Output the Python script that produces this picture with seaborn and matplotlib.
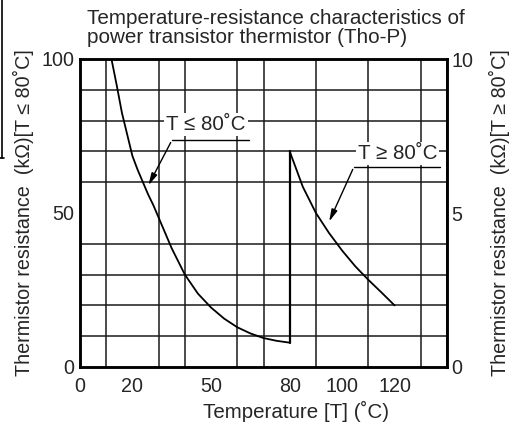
import numpy as np
import pandas as pd
import seaborn as sns
import matplotlib.pyplot as plt
from matplotlib.lines import Line2D

# readings from the reference curve (T <= 80 C, left axis in kOhm)
temp_low = [12, 14, 16, 18, 20, 22, 24, 26, 28, 30, 32, 35, 40, 45, 50, 55, 60, 65, 70, 75, 80]
res_low = [100, 91.5, 82.5, 75.5, 68.5, 64, 60, 56, 52.5, 48.5, 44.5, 38.5, 30, 23.8, 19.3, 15.7, 12.9, 10.9, 9.4, 8.5, 7.9]

# readings for T >= 80 C (right axis in kOhm)
temp_high = [80, 85, 90, 95, 100, 105, 110, 115, 120]
res_high = [7.0, 5.85, 5.0, 4.35, 3.78, 3.27, 2.83, 2.42, 2.0]

x_ticks = [0, 20, 50, 80, 100, 120]
left_ticks = [0, 50, 100]
right_ticks = [0, 5, 10]

title = "Temperature-resistance characteristics of\npower transistor thermistor (Tho-P)"
xlab = "Temperature [T] (˚C)"
ylab_left = "Thermistor resistance  (kΩ)[T ≤ 80˚C]"
ylab_right = "Thermistor resistance  (kΩ)[T ≥ 80˚C]"

sns.set_theme(style="white")
plt.rcParams['font.family'] = ['Liberation Sans', 'DejaVu Sans']
fs = 14.2

df_low = pd.DataFrame({'temp': temp_low, 'res': res_low})
df_high = pd.DataFrame({'temp': temp_high, 'res': res_high})

fig = plt.figure(figsize=(5.18, 4.28), dpi=100)
ax = fig.add_axes([80 / 518, 61 / 428, 367 / 518, 308 / 428])
ax2 = ax.twinx()

ax.set_xlim(0, 140)
ax.set_ylim(0, 100)
ax2.set_ylim(0, 10)

# grid every 10 degC / 10 kOhm
ax.set_xticks(np.arange(0, 141, 10), minor=True)
ax.set_yticks(np.arange(0, 101, 10), minor=True)
ax.grid(which='minor', color='#1a1a1a', linewidth=1.1)
ax.set_axisbelow(True)

sns.lineplot(data=df_low, x='temp', y='res', ax=ax, color='black', linewidth=1.3, sort=False)
sns.lineplot(data=df_high, x='temp', y='res', ax=ax2, color='black', linewidth=1.3, sort=False)
# jump at 80 C
ax.plot([temp_low[-1], temp_high[0]], [res_low[-1], res_high[0] * 10], color='black', linewidth=1.6)

ax.set_xticks(x_ticks)
ax.set_yticks(left_ticks)
ax2.set_yticks(right_ticks)
ax.tick_params(which='both', length=0, labelsize=fs)
ax.tick_params(axis='x', pad=7)
ax.tick_params(axis='y', pad=4)
ax2.tick_params(which='both', length=0, labelsize=fs, pad=3)

for a in (ax, ax2):
    for s in a.spines.values():
        s.set_color('black')
        s.set_linewidth(1.8)

ax.set_xlabel(xlab, fontsize=14.8)
ax.xaxis.set_label_coords(0.589, -0.11)
ax.set_ylabel(ylab_left, fontsize=fs)
ax.yaxis.set_label_coords(-0.126, 0.5)
ax2.set_ylabel(ylab_right, fontsize=fs)
ax2.yaxis.set_label_coords(1.113, 0.5)

# callouts
box = dict(facecolor='white', edgecolor='none', pad=1.5)
ax.text(48.1, 78.6, "T ≤ 80˚C", fontsize=14.8, ha='center', va='center', bbox=box, zorder=5)
ax.plot([35.1, 64.5], [73.7, 73.7], color='black', linewidth=1.0, zorder=5)
ax.annotate("", xy=(25.6, 58.2), xytext=(35.1, 73.7),
            arrowprops=dict(arrowstyle='-|>,head_length=0.6,head_width=0.15', color='black', lw=1.0), zorder=5)

ax2.text(121.1, 6.93, "T ≥ 80˚C", fontsize=14.8, ha='center', va='center', bbox=box, zorder=5)
ax2.plot([104.5, 137.4], [6.5, 6.5], color='black', linewidth=1.0, zorder=5)
ax2.annotate("", xy=(94.6, 4.64), xytext=(104.5, 6.5),
             arrowprops=dict(arrowstyle='-|>,head_length=0.6,head_width=0.15', color='black', lw=1.0), zorder=5)

fig.text(87 / 518, 1 - 28 / 428, title, fontsize=14.9, ha='left', va='center', linespacing=1.0)

# crop edge line at the far left of the scan
fig.add_artist(Line2D([2 / 518, 2 / 518], [1, 1 - 158 / 428], color='black', linewidth=1.2))
fig.add_artist(Line2D([0, 4 / 518], [1 - 158 / 428, 1 - 158 / 428], color='black', linewidth=1.2))

fig.savefig("out.png", dpi=100)
